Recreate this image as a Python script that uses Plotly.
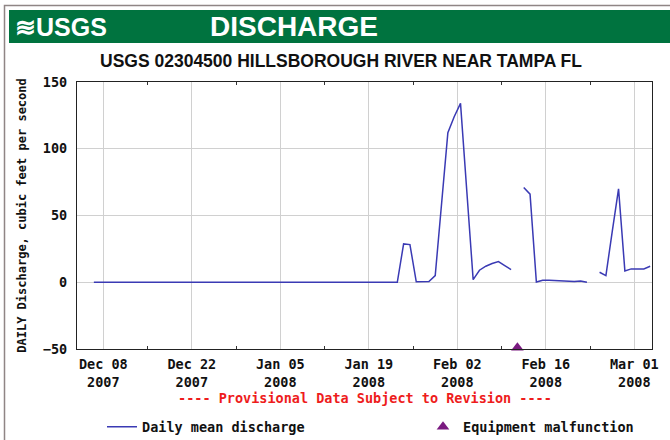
import pandas as pd
import plotly.graph_objects as go

# ---------------- data ----------------
start_date = "2007-12-07"
end_date = "2008-03-04"
# daily mean discharge (cfs), Dec 07 2007 .. Mar 04 2008; None = missing
discharge = [
    # Dec 07 - Dec 31
    0, 0, 0, 0, 0, 0, 0, 0, 0, 0, 0, 0, 0, 0, 0, 0, 0, 0, 0, 0, 0, 0, 0, 0, 0,
    # Jan 01 - Jan 24
    0, 0, 0, 0, 0, 0, 0, 0, 0, 0, 0, 0, 0, 0, 0, 0, 0, 0, 0, 0, 0, 0, 0, 0,
    # Jan 25 - Jan 31
    28.7, 28.2, 0.3, 0.3, 0.5, 5, 59,
    # Feb 01 - Feb 11
    112, 124, 134, 68, 2, 9, 12, 14, 15.5, 12.5, 9.5,
    # Feb 12 (missing) - Feb 23
    None, 71, 66, 0.2, 1.5, 1.5, 1.2, 1, 0.6, 0.6, 1, 0,
    # Feb 24 (missing) - Feb 29
    None, 7.5, 5, 38, 70, 8.5,
    # Mar 01 - Mar 04
    10, 10, 10, 12,
]
dates = pd.date_range(start_date, end_date, freq="D")

malfunction_dates = ["2008-02-12"]
malfunction_values = [-49]

tick_dates = ["2007-12-08", "2007-12-22", "2008-01-05", "2008-01-19",
              "2008-02-02", "2008-02-16", "2008-03-01"]
tick_labels = ["Dec 08<br>2007", "Dec 22<br>2007", "Jan 05<br>2008", "Jan 19<br>2008",
               "Feb 02<br>2008", "Feb 16<br>2008", "Mar 01<br>2008"]
y_ticks = [-50, 0, 50, 100, 150]

# ---------------- figure ----------------
MONO = "DejaVu Sans Mono, monospace"
FS = 13.5
W, H = 670, 440
L, R, T, B = 77, 18, 82, 91
pw, ph = W - L - R, H - T - B


def px(x):
    return (x - L) / pw


def py(y):
    return (H - B - y) / ph


fig = go.Figure()
fig.add_trace(go.Scatter(
    x=dates, y=discharge, mode="lines", name="Daily mean discharge",
    line=dict(color="#3a3ab4", width=1.5), connectgaps=False, legend="legend",
))
fig.add_trace(go.Scatter(
    x=pd.to_datetime(malfunction_dates), y=malfunction_values, mode="markers",
    name="Equipment malfunction", cliponaxis=False, legend="legend2",
    marker=dict(symbol="triangle-up", size=11, color="#7a1a80"),
))

tickvals = [pd.Timestamp(d) + pd.Timedelta(hours=12) for d in tick_dates]

fig.update_xaxes(
    type="date",
    range=["2007-12-04 08:00", "2008-03-04 07:00"],
    tickmode="array", tickvals=tickvals, ticktext=tick_labels,
    showgrid=True, gridcolor="#d0d0d0", gridwidth=1,
    showline=True, linecolor="#222222", linewidth=1.2, mirror="ticks",
    ticks="", zeroline=False, ticklabelstandoff=3,
    tickfont=dict(family=MONO, size=FS, color="#111111", weight="bold"),
    minor=dict(ticks="inside", ticklen=3, tickcolor="#333333",
               tick0="2007-12-15 12:00", dtick=14 * 86400000, showgrid=False),
)
fig.update_yaxes(
    range=[-50, 150], tickvals=y_ticks,
    showgrid=True, gridcolor="#d0d0d0", gridwidth=1,
    showline=True, linecolor="#222222", linewidth=1.2, mirror=True,
    ticks="", zeroline=False, ticklabelstandoff=6,
    tickfont=dict(family=MONO, size=FS, color="#111111", weight="bold"),
    title=dict(text="DAILY Discharge, cubic feet per second",
               font=dict(family=MONO, size=12, color="#111111", weight="bold"),
               standoff=13),
)

shapes = [
    # outer frame
    dict(type="rect", xref="paper", yref="paper",
         x0=px(4.5), x1=px(690), y0=py(460), y1=py(5.5),
         line=dict(color="#8f8585", width=1.5), fillcolor="rgba(0,0,0,0)", layer="below"),
    # green banner
    dict(type="rect", xref="paper", yref="paper",
         x0=px(9), x1=px(690), y0=py(43), y1=py(10),
         line=dict(width=0), fillcolor="#00733f", layer="below"),
]

annotations = [
    dict(text="<b>≋USGS</b>", x=px(13), y=py(27), xref="paper", yref="paper",
         xanchor="left", yanchor="middle", showarrow=False,
         font=dict(family="Liberation Sans Narrow, Liberation Sans, Arial", size=25, color="white")),
    dict(text="<b>DISCHARGE</b>", x=px(294), y=py(27), xref="paper", yref="paper",
         xanchor="center", yanchor="middle", showarrow=False,
         font=dict(family="Liberation Sans, Arial", size=28, color="white")),
    dict(text="<b>USGS 02304500 HILLSBOROUGH RIVER NEAR TAMPA FL</b>", x=px(341), y=py(61),
         xref="paper", yref="paper", xanchor="center", yanchor="middle", showarrow=False,
         font=dict(family="Liberation Sans Narrow, Liberation Sans, Arial", size=17.5, color="#111111")),
    dict(text="---- Provisional Data Subject to Revision ----", x=0.5, y=py(398),
         xref="paper", yref="paper", xanchor="center", yanchor="middle", showarrow=False,
         font=dict(family=MONO, size=FS, color="#ee1c1c", weight="bold")),
]

legend_font = dict(family=MONO, size=FS, color="#111111", weight="bold")
fig.update_layout(
    width=W, height=H,
    margin=dict(l=L, r=R, t=T, b=B),
    paper_bgcolor="white", plot_bgcolor="white",
    shapes=shapes, annotations=annotations,
    showlegend=True,
    legend=dict(orientation="h", xref="container", yref="container",
                x=102 / W, y=1 - 427 / H, xanchor="left", yanchor="middle",
                font=legend_font, bgcolor="rgba(0,0,0,0)"),
    legend2=dict(orientation="h", xref="container", yref="container",
                 x=423 / W, y=1 - 427 / H, xanchor="left", yanchor="middle",
                 font=legend_font, bgcolor="rgba(0,0,0,0)"),
)

fig.write_html("out.html", config={"displayModeBar": False},
               post_script="document.body.style.margin='0px';")
